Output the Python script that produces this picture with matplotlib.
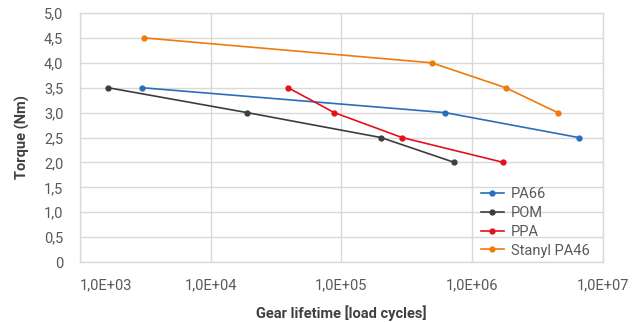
import numpy as np
import matplotlib
matplotlib.use("Agg")
from matplotlib import pyplot as plt
from matplotlib.ticker import FuncFormatter, FixedLocator, NullLocator

plt.rcParams['font.family'] = ['Roboto', 'DejaVu Sans']

# values
pa66_cycles = [2.97e3, 6.2e5, 6.5e6]
pa66_torque = [3.5, 3.0, 2.5]
pom_cycles = [1.64e3, 1.9e4, 2.0e5, 7.3e5]
pom_torque = [3.5, 3.0, 2.5, 2.0]
ppa_cycles = [3.9e4, 8.8e4, 2.9e5, 1.73e6]
ppa_torque = [3.5, 3.0, 2.5, 2.0]
stanyl_cycles = [3.1e3, 4.9e5, 1.8e6, 4.5e6]
stanyl_torque = [4.5, 4.0, 3.5, 3.0]

x_ticks = [1e3, 1e4, 1e5, 1e6, 1e7]
x_tick_labels = ["1,0E+03", "1,0E+04", "1,0E+05", "1,0E+06", "1,0E+07"]
y_ticks = np.arange(0, 5.01, 0.5)

fig = plt.figure(figsize=(6.43, 3.22), dpi=100)
ax = fig.add_axes([0.1244, 0.1863, 0.8134, 0.7733])

series = [
    ("PA66", pa66_cycles, pa66_torque, "#2a6ebb"),
    ("POM", pom_cycles, pom_torque, "#3d3d3d"),
    ("PPA", ppa_cycles, ppa_torque, "#e3101e"),
    ("Stanyl PA46", stanyl_cycles, stanyl_torque, "#ef7a0c"),
]
for name, xs, ys, col in series:
    ax.plot(xs, ys, color=col, lw=1.2, marker="o", ms=3.5, label=name, zorder=3)

ax.set_xscale("log")
ax.set_xlim(1e3, 1e7)
ax.set_ylim(0, 5)
ax.xaxis.set_major_locator(FixedLocator(x_ticks))
ax.xaxis.set_minor_locator(NullLocator())
ax.set_xticklabels(x_tick_labels)
ax.set_yticks(y_ticks)
ax.yaxis.set_major_formatter(FuncFormatter(lambda v, p: "0" if v == 0 else f"{v:.1f}".replace(".", ",")))

ax.grid(True, color="#d9d9d9", lw=1.0, zorder=0)
ax.set_axisbelow(True)
for s in ax.spines.values():
    s.set_color("#d9d9d9")
    s.set_linewidth(1.0)
ax.tick_params(length=0, labelsize=10.5, labelcolor="#595959")
ax.tick_params(axis="x", pad=12)
ax.tick_params(axis="y", pad=12)
ax.get_xticklabels()[0].set_ha("left")

ax.set_xlabel("Gear lifetime [load cycles]", fontsize=10.5, fontweight="bold", color="#404040", labelpad=9)
ax.set_ylabel("Torque (Nm)", fontsize=10.5, fontweight="bold", color="#404040", labelpad=10)

leg = ax.legend(loc="lower right", frameon=False, fontsize=10.5, labelcolor="#595959",
                handlelength=1.6, handletextpad=0.5, labelspacing=0.33,
                bbox_to_anchor=(1.0, -0.035))

fig.savefig("out.png", dpi=100)
